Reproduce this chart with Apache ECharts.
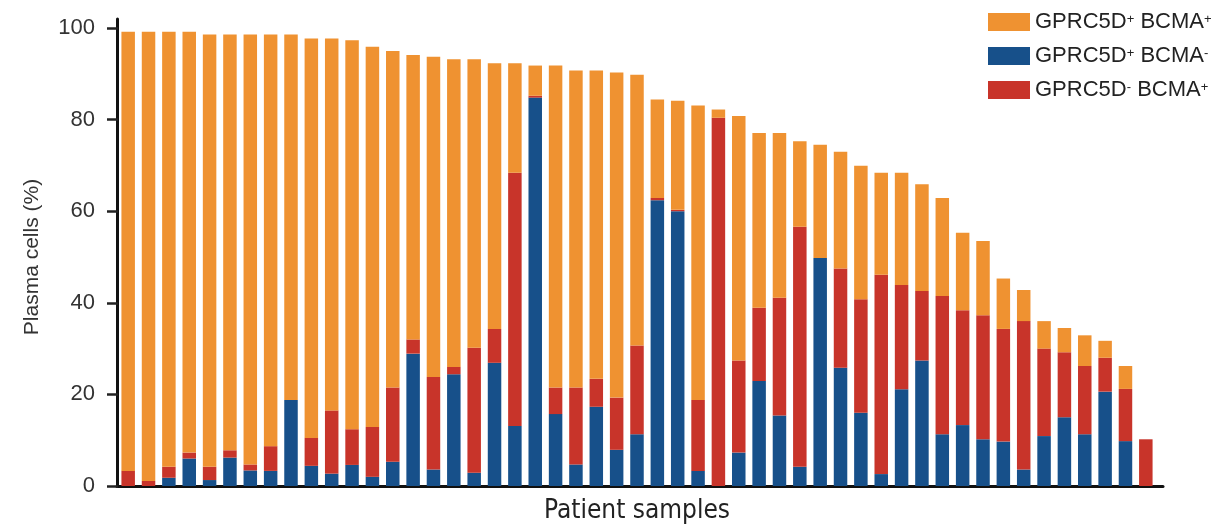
<!DOCTYPE html>
<html>
<head>
<meta charset="utf-8">
<script src="https://cdn.jsdelivr.net/npm/echarts@6/dist/echarts.min.js"></script>
<style>
html,body{margin:0;padding:0;background:#fff;}
#chart{width:1229px;height:526px;}
</style>
</head>
<body>
<div id="chart"></div>
<script>
const categories = ['S1','S2','S3','S4','S5','S6','S7','S8','S9','S10','S11','S12','S13','S14','S15','S16','S17','S18','S19','S20','S21','S22','S23','S24','S25','S26','S27','S28','S29','S30','S31','S32','S33','S34','S35','S36','S37','S38','S39','S40','S41','S42','S43','S44','S45','S46','S47','S48','S49','S50','S51'];

// GPRC5D+ BCMA- (blue, bottom segment)
const gprcPosBcmaNeg = [0,0,1.8,6.0,1.3,6.2,3.4,3.3,18.8,4.4,2.7,4.6,2.0,5.3,28.9,3.6,24.4,2.9,26.9,13.1,84.8,15.7,4.7,17.3,7.9,11.3,62.4,60.0,3.3,0,7.3,22.9,15.4,4.2,49.8,25.8,16.0,2.6,21.1,27.4,11.3,13.3,10.2,9.7,3.6,10.9,15.0,11.3,20.6,9.8,0];

// GPRC5D- BCMA+ (red, middle segment)
const gprcNegBcmaPos = [3.3,1.1,2.4,1.3,2.9,1.6,1.3,5.4,0,6.1,13.8,7.8,10.9,16.2,3.1,20.2,1.6,27.3,7.4,55.3,0.4,5.8,16.8,6.1,11.4,19.4,0.5,0.3,15.5,80.4,20.1,16.0,25.7,52.4,0,21.7,24.8,43.5,22.8,15.2,30.2,25.1,27.1,24.6,32.4,19.1,14.2,14.9,7.4,11.4,10.2];

// GPRC5D+ BCMA+ (orange, top segment)
const gprcPosBcmaPos = [95.9,98.1,95.0,91.9,94.4,90.8,93.9,89.9,79.8,87.2,81.2,84.9,83.0,73.5,62.1,69.9,67.2,63.0,58.0,23.9,6.6,70.3,69.2,67.3,71.0,59.1,21.5,23.8,64.3,1.8,53.4,38.2,36.0,18.7,24.7,25.5,29.1,22.3,24.5,23.3,21.4,16.9,16.2,11.0,6.8,6.0,5.3,6.7,3.7,5.0,0];

const seriesNames = ['GPRC5D+ BCMA+', 'GPRC5D+ BCMA-', 'GPRC5D- BCMA+'];
const legendLabels = {
  'GPRC5D+ BCMA+': '{n|GPRC5D}{s|+}{n| BCMA}{s|+}',
  'GPRC5D+ BCMA-': '{n|GPRC5D}{s|+}{n| BCMA}{s|-}',
  'GPRC5D- BCMA+': '{n|GPRC5D}{s|-}{n| BCMA}{s|+}'
};

const COLORS = {orange:'#EF9231', blue:'#17508A', red:'#C8342A'};
const chart = echarts.init(document.getElementById('chart'), null, {renderer:'canvas'});

const option = {
  backgroundColor: '#ffffff',
  animation: false,
  grid: [
    {left: 118, top: 28, width: 1038, bottom: 40, containLabel: false, outerBoundsMode: 'none'},
    {left: 117, top: 19, width: 1046, bottom: 40, containLabel: false, outerBoundsMode: 'none'}
  ],
  legend: {
    data: seriesNames,
    orient: 'vertical',
    left: 983,
    top: 6,
    itemWidth: 42,
    itemHeight: 18,
    itemGap: 12,
    icon: 'rect',
    formatter: function (name) { return legendLabels[name]; },
    textStyle: {
      color: '#222',
      rich: {
        n: {fontFamily: 'Liberation Sans, Arial, sans-serif', fontSize: 22, color: '#222', lineHeight: 18},
        s: {fontFamily: 'Liberation Sans, Arial, sans-serif', fontSize: 13, color: '#222', lineHeight: 18, verticalAlign: 'top'}
      }
    }
  },
  xAxis: [
    {
      type: 'category',
      gridIndex: 0,
      data: categories,
      boundaryGap: true,
      axisLine: {show: false},
      axisTick: {show: false},
      axisLabel: {show: false},
      splitLine: {show: false},
      name: 'Patient samples',
      nameLocation: 'middle',
      nameGap: 12,
      nameTextStyle: {
        fontFamily: 'Liberation Sans Narrow, DejaVu Sans Condensed, Arial Narrow, sans-serif',
        fontSize: 26, color: '#222', verticalAlign: 'top'
      }
    },
    {
      type: 'value',
      gridIndex: 1,
      min: 0, max: 1,
      axisLine: {show: true, lineStyle: {color: '#111', width: 3}},
      axisTick: {show: false},
      axisLabel: {show: false},
      splitLine: {show: false}
    }
  ],
  yAxis: [
    {
      type: 'value',
      gridIndex: 0,
      min: 0, max: 100, interval: 20,
      axisLine: {show: false},
      axisTick: {show: true, length: 11, lineStyle: {color: '#222', width: 2.5}},
      axisLabel: {show: true, margin: 23, color: '#333', fontSize: 22, fontFamily: 'Liberation Sans, Arial, sans-serif'},
      splitLine: {show: false},
      name: 'Plasma cells (%)',
      nameLocation: 'middle',
      nameGap: 75,
      nameTextStyle: {fontFamily: 'Liberation Sans, Arial, sans-serif', fontSize: 21, color: '#333'}
    },
    {
      type: 'value',
      gridIndex: 1,
      min: 0, max: 1,
      axisLine: {show: true, lineStyle: {color: '#111', width: 3}},
      axisTick: {show: false},
      axisLabel: {show: false},
      splitLine: {show: false}
    }
  ],
  series: [
    {
      name: 'GPRC5D+ BCMA-', type: 'bar', stack: 'pc', xAxisIndex: 0, yAxisIndex: 0,
      barWidth: 13.5, data: gprcPosBcmaNeg, itemStyle: {color: COLORS.blue}
    },
    {
      name: 'GPRC5D- BCMA+', type: 'bar', stack: 'pc', xAxisIndex: 0, yAxisIndex: 0,
      barWidth: 13.5, data: gprcNegBcmaPos, itemStyle: {color: COLORS.red}
    },
    {
      name: 'GPRC5D+ BCMA+', type: 'bar', stack: 'pc', xAxisIndex: 0, yAxisIndex: 0,
      barWidth: 13.5, data: gprcPosBcmaPos, itemStyle: {color: COLORS.orange}
    }
  ]
};
chart.setOption(option);
</script>
</body>
</html>
